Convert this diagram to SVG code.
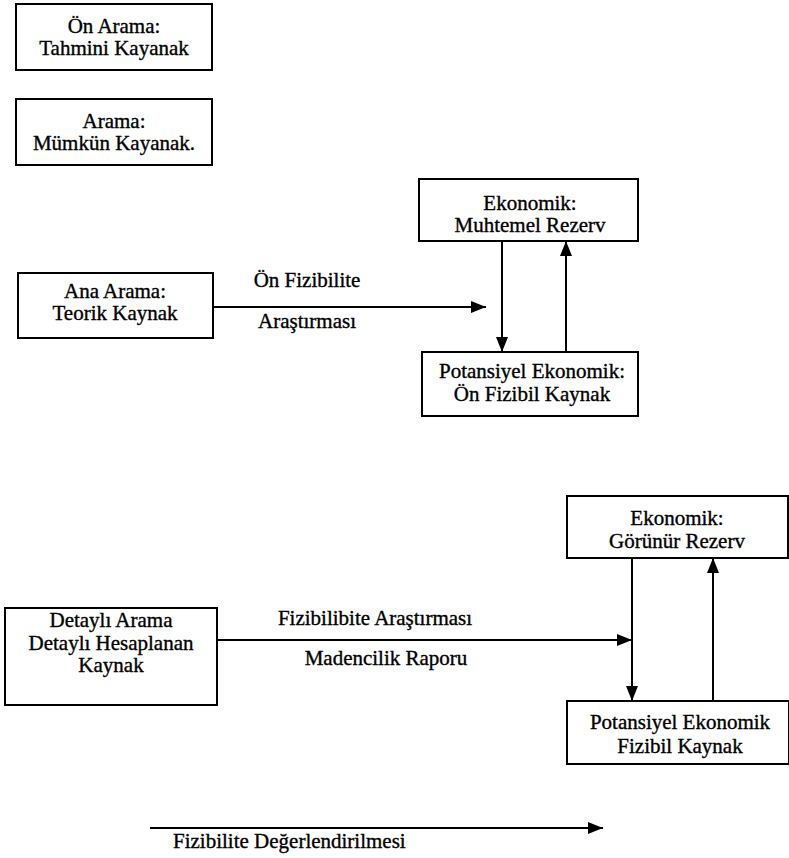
<svg xmlns="http://www.w3.org/2000/svg" width="789" height="858" viewBox="0 0 789 858" font-family="Liberation Serif, DejaVu Serif, serif" font-size="21">
<style>
  .box { fill: #ffffff; stroke: #000000; stroke-width: 2; }
  text { font-family: 'Liberation Serif', 'DejaVu Serif', 'Times New Roman', serif; font-size: 21px; fill: #000000; stroke: #000000; stroke-width: 0.35; }
  .t { text-anchor: middle; }
  .c { stroke: #000000; stroke-width: 2; fill: none; marker-end: url(#ah); }
</style>
<defs>
  <marker id="ah" markerUnits="userSpaceOnUse" markerWidth="16" markerHeight="12" refX="15" refY="6" orient="auto">
    <path d="M0,0 L15,6 L0,12 Z" fill="#000000"/>
  </marker>
</defs>
<rect width="789" height="858" fill="#ffffff"/>

<g id="connectors">
  <line class="c" x1="213" y1="307" x2="486" y2="307"/>
  <line class="c" x1="502" y1="241" x2="502" y2="352"/>
  <line class="c" x1="566" y1="352" x2="566" y2="241"/>
  <line class="c" x1="217" y1="640" x2="632" y2="640"/>
  <line class="c" x1="632" y1="558" x2="632" y2="701"/>
  <line class="c" x1="713" y1="701" x2="713" y2="558"/>
  <line class="c" x1="150" y1="828" x2="603" y2="828"/>
  <text class="t" x="307" y="287">Ön Fizibilite</text>
  <text class="t" x="307" y="328">Araştırması</text>
  <text class="t" x="375" y="625">Fizibilibite Araştırması</text>
  <text class="t" x="386" y="665">Madencilik Raporu</text>
  <text x="173" y="848">Fizibilite Değerlendirilmesi</text>
</g>

<g id="on-arama">
  <rect class="box" x="16" y="4" width="196" height="66"/>
  <text class="t" x="114" y="33">Ön Arama:</text>
  <text class="t" x="114" y="55">Tahmini Kayanak</text>
</g>

<g id="arama">
  <rect class="box" x="16" y="99" width="196" height="66"/>
  <text class="t" x="114" y="128">Arama:</text>
  <text class="t" x="114" y="150">Mümkün Kayanak.</text>
</g>

<g id="ana-arama">
  <rect class="box" x="18" y="273" width="195" height="65"/>
  <text class="t" x="115" y="298">Ana Arama:</text>
  <text class="t" x="115" y="320">Teorik Kaynak</text>
</g>

<g id="muhtemel-rezerv">
  <rect class="box" x="419" y="179" width="219" height="62"/>
  <text class="t" x="530" y="210">Ekonomik:</text>
  <text class="t" x="530" y="232">Muhtemel Rezerv</text>
</g>

<g id="on-fizibil-kaynak">
  <rect class="box" x="422" y="352" width="216" height="64"/>
  <text class="t" x="532" y="378">Potansiyel Ekonomik:</text>
  <text class="t" x="532" y="401">Ön Fizibil Kaynak</text>
</g>

<g id="detayli-arama">
  <rect class="box" x="5" y="608" width="212" height="97"/>
  <text class="t" x="111" y="627">Detaylı Arama</text>
  <text class="t" x="111" y="650">Detaylı Hesaplanan</text>
  <text class="t" x="111" y="672">Kaynak</text>
</g>

<g id="gorunur-rezerv">
  <rect class="box" x="567" y="496" width="221" height="62"/>
  <text class="t" x="677" y="525">Ekonomik:</text>
  <text class="t" x="677" y="548">Görünür Rezerv</text>
</g>

<g id="fizibil-kaynak">
  <rect class="box" x="567" y="701" width="222" height="63"/>
  <text class="t" x="680" y="729">Potansiyel Ekonomik</text>
  <text class="t" x="680" y="753">Fizibil Kaynak</text>
</g>
</svg>
